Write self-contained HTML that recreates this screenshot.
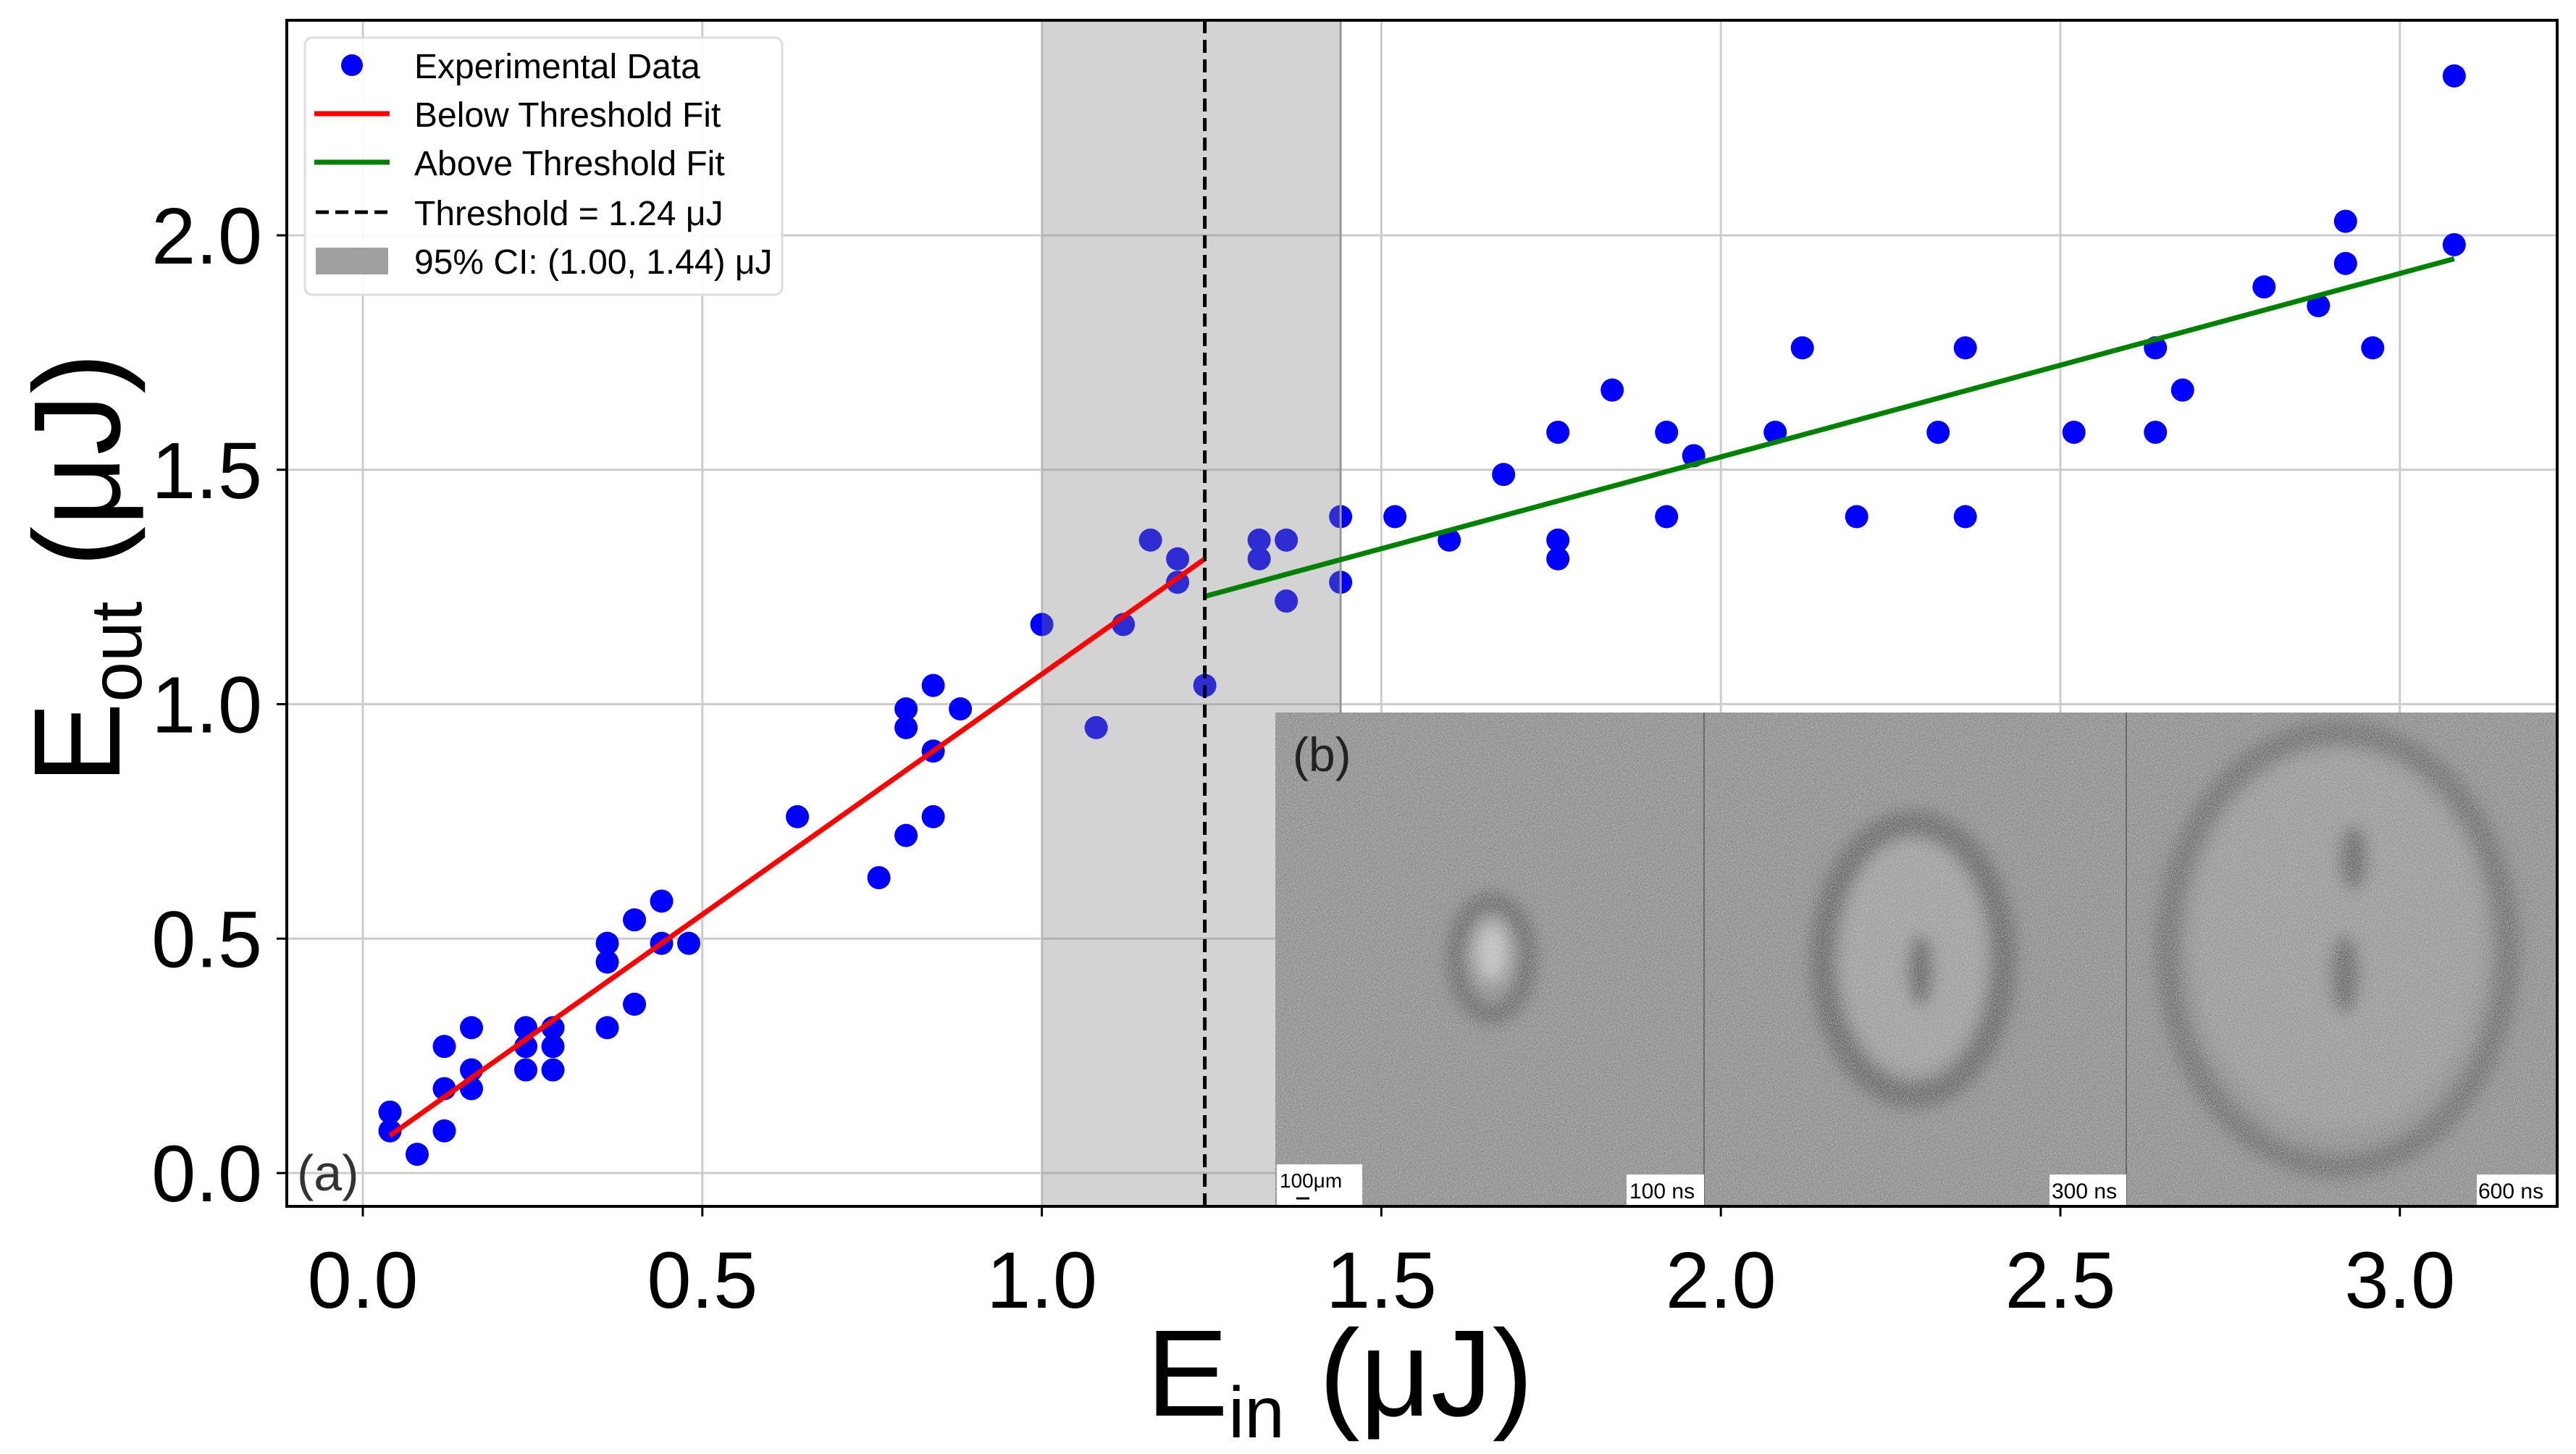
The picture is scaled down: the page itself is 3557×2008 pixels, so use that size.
<!DOCTYPE html>
<html><head><meta charset="utf-8"><style>
body{margin:0;background:#fff}
svg{display:block}
text{font-family:"Liberation Sans",sans-serif}
</style></head><body>
<svg id="chart" width="3557" height="2008" viewBox="0 0 3557 2008">
<defs>
<filter id="noise" x="0" y="0" width="100%" height="100%">
<feTurbulence type="fractalNoise" baseFrequency="0.6" numOctaves="2" seed="3"/>
<feColorMatrix type="matrix" values="0 0 0 0 0.5  0 0 0 0 0.5  0 0 0 0 0.5  1.6 0 0 0 -0.45"/>
</filter>
<filter id="noise2" x="0" y="0" width="100%" height="100%">
<feTurbulence type="fractalNoise" baseFrequency="0.6" numOctaves="2" seed="9"/>
<feColorMatrix type="matrix" values="0 0 0 0 0.85  0 0 0 0 0.85  0 0 0 0 0.85  1.6 0 0 0 -0.5"/>
</filter>
<filter id="blur8"><feGaussianBlur stdDeviation="10"/></filter>
<clipPath id="insetclip"><rect x="1761" y="984" width="1769" height="681"/></clipPath>
</defs>
<g id="grid"></g>
<g id="ci"></g>
<g id="pts"></g>
<g id="ci2"></g>
<g id="fits"></g>
<g clip-path="url(#insetclip)">
<rect x="1761" y="984" width="1769" height="681" fill="#858585"/>
<g filter="url(#blur8)">
<ellipse cx="2060" cy="1323" rx="50" ry="78" fill="none" stroke="#5a5a5a" stroke-width="26"/>
<ellipse cx="2060" cy="1315" rx="22" ry="40" fill="#c0c0c0"/>
<ellipse cx="2642" cy="1325" rx="125" ry="188" fill="none" stroke="#5a5a5a" stroke-width="36"/>
<ellipse cx="2642" cy="1320" rx="100" ry="160" fill="#989898"/>
<ellipse cx="2652" cy="1340" rx="18" ry="50" fill="#555"/>
<ellipse cx="3228" cy="1311" rx="235" ry="300" fill="none" stroke="#626262" stroke-width="34"/>
<ellipse cx="3228" cy="1300" rx="200" ry="260" fill="#929292"/>
<ellipse cx="3250" cy="1185" rx="20" ry="45" fill="#5a5a5a"/>
<ellipse cx="3238" cy="1345" rx="20" ry="55" fill="#5a5a5a"/>
</g>
<rect x="1761" y="984" width="1769" height="681" filter="url(#noise)" opacity="0.5"/>
<rect x="1761" y="984" width="1769" height="681" filter="url(#noise2)" opacity="0.45"/>
<line x1="2353" y1="984" x2="2353" y2="1665" stroke="#6a6a6a" stroke-width="2"/>
<line x1="2936" y1="984" x2="2936" y2="1665" stroke="#6a6a6a" stroke-width="2"/>
<text x="1785" y="1065" font-size="66" fill="#222">(b)</text>
<rect x="1763" y="1608" width="118" height="56" fill="#fff"/>
<text x="1767" y="1640" font-size="28" fill="#000">100μm</text>
<line x1="1790" y1="1655" x2="1808" y2="1655" stroke="#000" stroke-width="3"/>
<rect x="2246" y="1622" width="107" height="42" fill="#fff"/>
<text x="2250" y="1655" font-size="30">100 ns</text>
<rect x="2830" y="1622" width="106" height="42" fill="#fff"/>
<text x="2833" y="1655" font-size="30">300 ns</text>
<rect x="3420" y="1622" width="110" height="42" fill="#fff"/>
<text x="3422" y="1655" font-size="30">600 ns</text>
</g>
<rect x="396" y="28" width="3135" height="1638" fill="none" stroke="#000" stroke-width="4"/>
<g id="ticks"></g>
<text x="410" y="1644" font-size="70" fill="#333">(a)</text>
<text x="1850" y="1955" font-size="170" text-anchor="middle">E<tspan font-size="100" dy="30">in</tspan><tspan dy="-30"> (μJ)</tspan></text>
<text transform="translate(165,785) rotate(-90)" font-size="170" text-anchor="middle">E<tspan font-size="100" dy="30">out</tspan><tspan dy="-30"> (μJ)</tspan></text>
<g>
<rect x="421" y="52" width="659" height="355" rx="10" fill="#fff" fill-opacity="0.9" stroke="#ddd" stroke-width="3"/>
<circle cx="486" cy="90" r="15" fill="#0000ff"/>
<text x="572" y="108" font-size="48">Experimental Data</text>
<line x1="434" y1="157" x2="538" y2="157" stroke="#ff0000" stroke-width="7"/>
<text x="572" y="175" font-size="48">Below Threshold Fit</text>
<line x1="434" y1="224" x2="538" y2="224" stroke="#008000" stroke-width="7"/>
<text x="572" y="242" font-size="48">Above Threshold Fit</text>
<line x1="436" y1="293" x2="538" y2="293" stroke="#000" stroke-width="5" stroke-dasharray="18,9"/>
<text x="572" y="311" font-size="48">Threshold = 1.24 μJ</text>
<rect x="436" y="342" width="100" height="37" fill="#a0a0a0"/>
<text x="572" y="378" font-size="48">95% CI: (1.00, 1.44) μJ</text>
</g>
</svg>
<script>
const xData=[0.04,0.04,0.08,0.12,0.12,0.12,0.16,0.16,0.16,0.24,0.24,0.24,0.28,0.28,0.28,0.36,0.36,0.36,0.40,0.40,0.44,0.44,0.48,0.64,0.76,0.80,0.80,0.80,0.84,0.84,0.84,0.88,1.00,1.08,1.12,1.16,1.20,1.20,1.24,1.32,1.32,1.36,1.36,1.44,1.44,1.52,1.60,1.68,1.76,1.76,1.76,1.84,1.92,1.92,1.96,2.08,2.12,2.20,2.32,2.36,2.36,2.52,2.64,2.64,2.68,2.80,2.88,2.92,2.92,2.96,3.08,3.08];
const yData=[0.13,0.09,0.04,0.27,0.18,0.09,0.31,0.22,0.18,0.31,0.27,0.22,0.31,0.27,0.22,0.49,0.45,0.31,0.54,0.36,0.58,0.49,0.49,0.76,0.63,0.99,0.95,0.72,1.04,0.90,0.76,0.99,1.17,0.95,1.17,1.35,1.31,1.26,1.04,1.35,1.31,1.35,1.22,1.40,1.26,1.40,1.35,1.49,1.58,1.35,1.31,1.67,1.58,1.40,1.53,1.58,1.76,1.40,1.58,1.76,1.40,1.58,1.76,1.58,1.67,1.89,1.85,2.03,1.94,1.76,2.34,1.98];
const belowFit=[[0.04,0.08],[1.24,1.31]];
const aboveFit=[[1.24,1.23],[3.08,1.95]];
const threshold=1.24;
const ciRange=[1.00,1.44];
const xTicks=[0.0,0.5,1.0,1.5,2.0,2.5,3.0];
const yTicks=[0.0,0.5,1.0,1.5,2.0];
const xTickLabels=["0.0","0.5","1.0","1.5","2.0","2.5","3.0"];
const yTickLabels=["0.0","0.5","1.0","1.5","2.0"];

const NS="http://www.w3.org/2000/svg";
const L=396,R=3531,T=28,B=1666;
function sx(v){return 501+937.6*v;}
function sy(v){return 1620-647.5*v;}
function mk(tag,attrs,parent){const e=document.createElementNS(NS,tag);for(const k in attrs)e.setAttribute(k,attrs[k]);document.getElementById(parent).appendChild(e);return e;}

xTicks.forEach((v,i)=>{
  const g=mk('line',{x1:sx(v),x2:sx(v),y1:T,y2:B,stroke:'#cccccc','stroke-width':3},'grid');
  
  
  const t=mk('line',{x1:sx(v),x2:sx(v),y1:B,y2:B+14,stroke:'#000','stroke-width':3},'ticks');
  
  
  const l=mk('text',{x:sx(v),y:1806,'font-size':110,'text-anchor':'middle'},'ticks');
  l.textContent=xTickLabels[i];
  
  
});
yTicks.forEach((v,i)=>{
  const g=mk('line',{x1:L,x2:R,y1:sy(v),y2:sy(v),stroke:'#cccccc','stroke-width':3},'grid');
  
  
  const t=mk('line',{x1:L-14,x2:L,y1:sy(v),y2:sy(v),stroke:'#000','stroke-width':3},'ticks');
  
  
  const l=mk('text',{x:362,y:sy(v)+39,'font-size':110,'text-anchor':'end'},'ticks');
  l.textContent=yTickLabels[i];
  
  
});
xData.forEach((x,i)=>{
  const c=mk('circle',{cx:sx(x),cy:sy(yData[i]),r:16,fill:'#0000ff'},'pts');
  
  
});
const band=mk('rect',{x:sx(ciRange[0]),y:T,width:sx(ciRange[1])-sx(ciRange[0]),height:B-T,fill:'#808080','fill-opacity':0.35},'ci2');


const edge=mk('line',{x1:sx(ciRange[1]),x2:sx(ciRange[1]),y1:T,y2:B,stroke:'#999','stroke-width':3},'ci2');


const rl=mk('line',{x1:sx(belowFit[0][0]),y1:sy(belowFit[0][1]),x2:sx(belowFit[1][0]),y2:sy(belowFit[1][1]),stroke:'#ff0000','stroke-width':7},'fits');


const gl=mk('line',{x1:sx(aboveFit[0][0]),y1:sy(aboveFit[0][1]),x2:sx(aboveFit[1][0]),y2:sy(aboveFit[1][1]),stroke:'#008000','stroke-width':7},'fits');


const th=mk('line',{x1:sx(threshold),x2:sx(threshold),y1:T,y2:B,stroke:'#000','stroke-width':5,'stroke-dasharray':'18,9'},'fits');


</script>
</body></html>
